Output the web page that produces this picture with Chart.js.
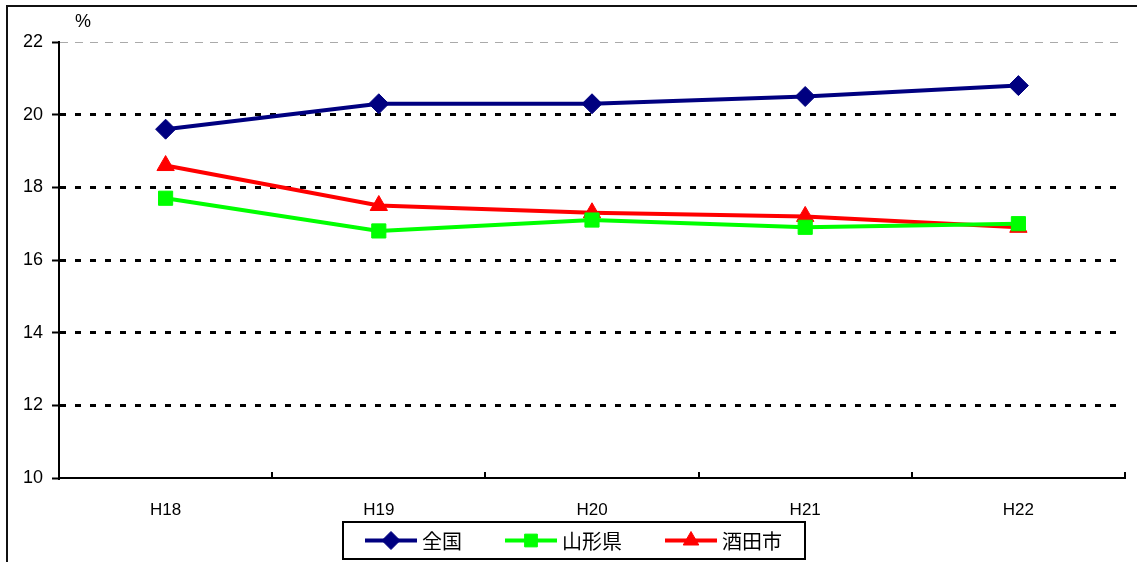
<!DOCTYPE html>
<html>
<head>
<meta charset="utf-8">
<script src="https://cdn.jsdelivr.net/npm/chart.js@4/dist/chart.umd.min.js"></script>
<style>
  html, body { margin: 0; padding: 0; background: #fff; }
  #wrap { position: relative; width: 1137px; height: 562px; overflow: hidden; }
  #frame { position: absolute; left: 6px; top: 5px; width: 1200px; height: 600px;
           border-left: 2px solid #111; border-top: 2px solid #111; }
  canvas { position: absolute; left: 0; top: 0; }
</style>
</head>
<body>
<div id="wrap">
  <div id="frame"></div>
  <canvas id="myChart" width="1137" height="562"></canvas>
</div>
<script>
const years = ['H18', 'H19', 'H20', 'H21', 'H22']
const zenkoku = [19.6, 20.3, 20.3, 20.5, 20.8]
const yamagata = [17.7, 16.8, 17.1, 16.9, 17.0]
const sakata = [18.6, 17.5, 17.3, 17.2, 16.9]
const seriesNames = ['全国', '山形県', '酒田市']

const LABEL_FONT = '"Liberation Sans", Arial, sans-serif'
const JP_FONT = '"Noto Sans CJK JP", "Liberation Sans", sans-serif'

// x tick marks point up into the plot, between categories
const innerTicks = {
  id: 'innerTicks',
  afterDraw(chart) {
    const ctx = chart.ctx
    const x = chart.scales.x
    const area = chart.chartArea
    ctx.save()
    ctx.strokeStyle = '#000'
    ctx.lineWidth = 2
    for (let i = 0; i < years.length; i++) {
      const px = Math.round((x.getPixelForValue(i) + x.getPixelForValue(i + 1)) / 2)
      ctx.beginPath()
      ctx.moveTo(px, area.bottom)
      ctx.lineTo(px, area.bottom - 6)
      ctx.stroke()
    }
    // unit label
    ctx.fillStyle = '#000'
    ctx.font = '18px ' + LABEL_FONT
    ctx.textAlign = 'center'
    ctx.textBaseline = 'middle'
    ctx.fillText('%', area.left + 24, 22)
    ctx.restore()
  }
}

// boxed legend with line + marker samples
const boxLegend = {
  id: 'boxLegend',
  afterDraw(chart) {
    const ctx = chart.ctx
    const box = { x: 343, y: 522, w: 462, h: 37 }
    const starts = [365, 505, 665]
    const cy = box.y + box.h / 2
    ctx.save()
    ctx.strokeStyle = '#000'
    ctx.lineWidth = 2
    ctx.strokeRect(box.x, box.y, box.w, box.h)
    chart.data.datasets.forEach((ds, i) => {
      const sx = starts[i]
      ctx.strokeStyle = ds.borderColor
      ctx.lineWidth = 4
      ctx.beginPath()
      ctx.moveTo(sx, cy)
      ctx.lineTo(sx + 52, cy)
      ctx.stroke()
      ctx.fillStyle = ds.borderColor
      ctx.lineWidth = 1
      Chart.helpers.drawPoint(ctx, {
        pointStyle: ds.pointStyle,
        radius: ds.pointRadius - 1,
        borderWidth: 1,
        rotation: 0
      }, sx + 26, cy)
      ctx.fillStyle = '#000'
      ctx.font = '20px ' + JP_FONT
      ctx.textAlign = 'left'
      ctx.textBaseline = 'middle'
      ctx.fillText(ds.label, sx + 57, cy + 1)
    })
    ctx.restore()
  }
}

function makeSet(label, data, color, style, radius) {
  return {
    label: label,
    data: data,
    borderColor: color,
    backgroundColor: color,
    borderWidth: 4,
    pointStyle: style,
    pointRadius: radius,
    pointHoverRadius: radius,
    pointBorderWidth: 1,
    tension: 0
  }
}

const ctx = document.getElementById('myChart')
new Chart(ctx, {
  type: 'line',
  data: {
    labels: years,
    datasets: [
      makeSet(seriesNames[0], zenkoku, '#000080', 'rectRot', 10),
      makeSet(seriesNames[1], yamagata, '#00ff00', 'rect', 10),
      makeSet(seriesNames[2], sakata, '#ff0000', 'triangle', 10)
    ]
  },
  options: {
    responsive: false,
    animation: false,
    layout: { padding: { left: 0, top: 42, right: 12, bottom: 0 } },
    plugins: {
      legend: { display: false },
      tooltip: { enabled: false }
    },
    scales: {
      x: {
        offset: true,
        afterFit(scale) { scale.height = 84 },
        grid: { display: false },
        border: { display: true, color: '#000', width: 2 },
        ticks: {
          color: '#000',
          padding: 14,
          font: { family: LABEL_FONT, size: 17 }
        }
      },
      y: {
        min: 10,
        max: 22,
        afterFit(scale) { scale.width = 59 },
        ticks: {
          stepSize: 2,
          color: '#000',
          padding: 9,
          font: { family: LABEL_FONT, size: 18 }
        },
        border: {
          display: true,
          color: '#000',
          width: 2,
          dash: (c) => c.tick && c.tick.value === 22 ? [8, 7] : [6, 9]
        },
        grid: {
          color: (c) => c.tick.value === 22 ? '#aaaaaa' : (c.tick.value === 10 ? 'rgba(0,0,0,0)' : '#000'),
          lineWidth: (c) => c.tick.value === 22 ? 1 : 3,
          drawTicks: true,
          tickLength: 7,
          tickColor: '#000',
          tickWidth: 2,
          tickBorderDash: []
        }
      }
    }
  },
  plugins: [innerTicks, boxLegend]
})
</script>
</body>
</html>
